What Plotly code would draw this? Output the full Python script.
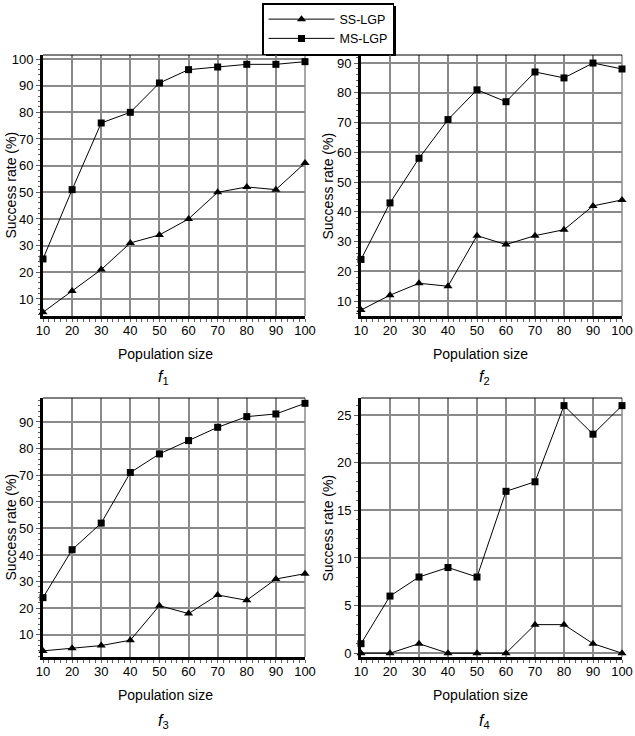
import plotly.graph_objects as go

pop = [10, 20, 30, 40, 50, 60, 70, 80, 90, 100]
f1_ss = [5, 13, 21, 31, 34, 40, 50, 52, 51, 61]
f1_ms = [25, 51, 76, 80, 91, 96, 97, 98, 98, 99]
f2_ss = [7, 12, 16, 15, 32, 29, 32, 34, 42, 44]
f2_ms = [24, 43, 58, 71, 81, 77, 87, 85, 90, 88]
f3_ss = [4, 5, 6, 8, 21, 18, 25, 23, 31, 33]
f3_ms = [24, 42, 52, 71, 78, 83, 88, 92, 93, 97]
f4_ss = [0, 0, 1, 0, 0, 0, 3, 3, 1, 0]
f4_ms = [1, 6, 8, 9, 8, 17, 18, 26, 23, 26]
panel_labels = ["<i>f</i><sub>1</sub>", "<i>f</i><sub>2</sub>", "<i>f</i><sub>3</sub>", "<i>f</i><sub>4</sub>"]
x_title = "Population size"
y_title = "Success rate (%)"
y_ranges = [[3.6, 101.5], [5, 92.7], [1.7, 99], [-0.4, 26.8]]
y_ticks = [list(range(10, 101, 10)), list(range(10, 91, 10)), list(range(10, 91, 10)), list(range(0, 26, 5))]

W, H = 635, 736
FONT = "Liberation Sans, Arial, sans-serif"


def px_x(p):
    return p / W


def px_y(p):
    return 1 - p / H


cols = [(43, 305), (361, 622)]
rows = [(55, 316), (398, 657)]
ytitle_x = [10, 327]
xtitle_x = [165, 480]
xtitle_dy = 38
flabel_x = [163, 484]
flabel_dy = [61, 64]

fig = go.Figure()
series = [(f1_ss, f1_ms), (f2_ss, f2_ms), (f3_ss, f3_ms), (f4_ss, f4_ms)]
shapes = []
annotations = []
for i, (ss, ms) in enumerate(series):
    r, c = divmod(i, 2)
    xa = "x" if i == 0 else f"x{i+1}"
    ya = "y" if i == 0 else f"y{i+1}"
    fig.add_trace(go.Scatter(x=pop, y=ss, mode="lines+markers", name="SS-LGP",
                             line=dict(color="black", width=1),
                             marker=dict(symbol="triangle-up", size=8, color="black"),
                             xaxis=xa, yaxis=ya, showlegend=(i == 0), cliponaxis=False))
    fig.add_trace(go.Scatter(x=pop, y=ms, mode="lines+markers", name="MS-LGP",
                             line=dict(color="black", width=1),
                             marker=dict(symbol="square", size=7, color="black"),
                             xaxis=xa, yaxis=ya, showlegend=(i == 0), cliponaxis=False))
    xkey = "xaxis" if i == 0 else f"xaxis{i+1}"
    ykey = "yaxis" if i == 0 else f"yaxis{i+1}"
    x0, x1 = cols[c]
    y0, y1 = rows[r]
    fig.update_layout(**{
        xkey: dict(domain=[px_x(x0), px_x(x1)], anchor=ya, range=[10, 100], automargin=False,
                   tickvals=pop, showgrid=True, gridcolor="#8a8a8a", gridwidth=1.5,
                   showline=True, linecolor="black", linewidth=3, zeroline=False,
                   ticks="", ticklabeloverflow="allow",
                   tickfont=dict(family=FONT, size=13, color="black"),
                   minor=dict(ticks="outside", dtick=2, ticklen=3, tickcolor="#606060", showgrid=False)),
        ykey: dict(domain=[px_y(y1), px_y(y0)], anchor=xa, range=y_ranges[i], automargin=False,
                   tickvals=y_ticks[i], showgrid=True, gridcolor="#8a8a8a", gridwidth=1.5,
                   showline=True, linecolor="black", linewidth=3, zeroline=False,
                   ticks="outside", ticklen=4, tickcolor="#606060", ticklabeloverflow="allow",
                   tickfont=dict(family=FONT, size=13, color="black"),
                   minor=dict(ticks="outside", dtick=(1 if i == 3 else 2), ticklen=2, tickcolor="#606060", showgrid=False)),
    })
    # frame: gray right edge, thin black top edge
    shapes.append(dict(type="line", xref=f"{xa} domain", yref=f"{ya} domain",
                       x0=1, x1=1, y0=0, y1=1, line=dict(color="#8a8a8a", width=1.5), layer="below"))
    shapes.append(dict(type="line", xref=f"{xa} domain", yref=f"{ya} domain",
                       x0=0, x1=1, y0=1, y1=1, line=dict(color="black", width=1), layer="above"))
    # axis titles
    annotations.append(dict(text=y_title, xref="paper", yref="paper", textangle=-90,
                            x=px_x(ytitle_x[c]), y=px_y((y0 + y1) / 2), xanchor="center", yanchor="middle",
                            showarrow=False, font=dict(family=FONT, size=14, color="black")))
    annotations.append(dict(text=x_title, xref="paper", yref="paper",
                            x=px_x(xtitle_x[c]), y=px_y(y1 + xtitle_dy), xanchor="center", yanchor="middle",
                            showarrow=False, font=dict(family=FONT, size=14, color="black")))
    annotations.append(dict(text=panel_labels[i], xref="paper", yref="paper",
                            x=px_x(flabel_x[c]), y=px_y(y1 + flabel_dy[r]), xanchor="center", yanchor="middle",
                            showarrow=False, font=dict(family=FONT, size=16, color="black")))

# legend shadow (offset 3px right/down from the legend box)
shapes.append(dict(type="rect", xref="paper", yref="paper",
                   x0=px_x(266), x1=px_x(396), y0=px_y(56), y1=px_y(6),
                   fillcolor="black", line=dict(width=0), layer="below"))

fig.update_layout(
    width=W, height=H,
    margin=dict(l=0, r=0, t=0, b=0, autoexpand=False),
    paper_bgcolor="white", plot_bgcolor="white",
    shapes=shapes, annotations=annotations,
    legend=dict(x=px_x(262), y=px_y(3), xanchor="left", yanchor="top",
                bgcolor="white", bordercolor="black", borderwidth=1.5,
                font=dict(family=FONT, size=12.5, color="black"),
                itemwidth=66, tracegroupgap=0),
)

# remove the browser's default 8px page margin so the figure fills the window
fig.write_html("out.html", config={"displayModeBar": False},
               post_script="document.body.style.margin='0';")
